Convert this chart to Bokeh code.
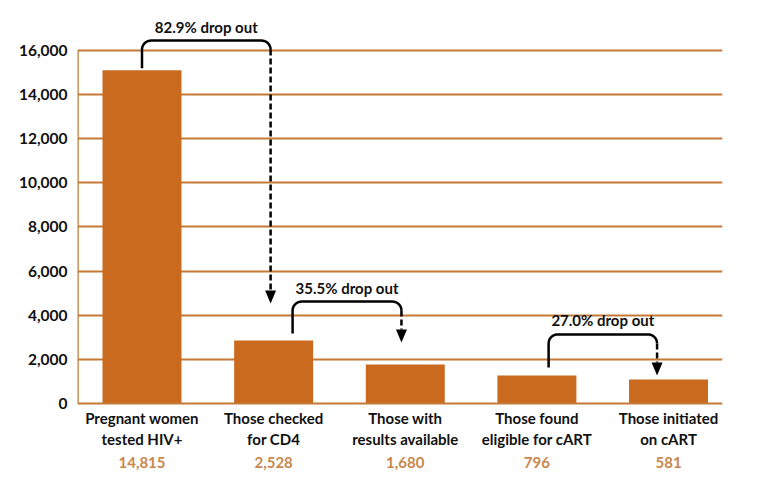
import numpy as np
from bokeh.plotting import figure
from bokeh.models import FixedTicker, NumeralTickFormatter, Range1d
from bokeh.core.properties import value
from bokeh.embed import file_html
from bokeh.resources import INLINE

# ---- data ----
categories = ["Pregnant women\ntested HIV+", "Those checked\nfor CD4", "Those with\nresults available",
              "Those found\neligible for cART", "Those initiated\non cART"]
bar_heights = [15100, 2850, 1770, 1270, 1090]          # as drawn in the picture
count_labels = ["14,815", "2,528", "1,680", "796", "581"]
y_ticks = [0, 2000, 4000, 6000, 8000, 10000, 12000, 14000, 16000]
drop_labels = ["82.9% drop out", "35.5% drop out", "27.0% drop out"]
# bracket geometry: (x_start, y_start, x_end, y_top, y_arrow_tip)
brackets = [(0.0, 15200, 0.977, 16450, 4530),
            (1.144, 3170, 1.971, 4620, 2770),
            (3.089, 1630, 3.913, 3130, 1270)]

BAR = "#C96A1F"
GRID = "#C47A36"
COUNT = "#C9874C"
FONT = "Lato"

x_idx = list(range(len(categories)))

W, H = 758, 478
BL, BR, BT, BB = 77, 36, 10, 3
p = figure(width=W, height=H, output_backend="svg", toolbar_location=None,
           x_range=Range1d(-0.49, 4.41), y_range=Range1d(-3264, 17813),
           min_border_left=BL, min_border_right=BR, min_border_top=BT, min_border_bottom=BB)
p.outline_line_color = None
p.xaxis.visible = False
p.xgrid.visible = False

yax = p.yaxis[0]
yax.ticker = FixedTicker(ticks=y_ticks)
yax.formatter = NumeralTickFormatter(format="0,0")
yax.axis_line_color = None
yax.major_tick_line_color = None
yax.minor_tick_line_color = None
yax.major_tick_out = 0
yax.major_tick_in = 0
yax.major_label_text_font = FONT
yax.major_label_text_font_style = "bold"
yax.major_label_text_font_size = "15.5px"
yax.major_label_text_color = "#111111"
yax.major_label_standoff = 10

p.ygrid.ticker = FixedTicker(ticks=y_ticks[1:])
p.ygrid.grid_line_color = GRID
p.ygrid.grid_line_width = 2.2

# bars
p.vbar(x=x_idx, top=bar_heights, bottom=0, width=0.6, fill_color=BAR, line_color=None)

# axis lines
p.segment(x0=[-0.49], y0=[0], x1=[4.41], y1=[0], line_color=GRID, line_width=2.2)
p.segment(x0=[-0.49], y0=[0], x1=[-0.49], y1=[16000], line_color=GRID, line_width=2.5)

frame_h = H - BT - BB
px_per_y = frame_h / (17813 + 3264)
def ypx(px):
    return px / px_per_y

p.text(x=x_idx, y=[ypx(-6)] * 5, text=categories, text_align="center", text_baseline="top",
       text_font=value(FONT), text_font_style="bold", text_font_size="15px", text_color="#111111",
       text_line_height=1.12)
p.text(x=x_idx, y=[ypx(-59)] * 5, text=count_labels, text_align="center", text_baseline="middle",
       text_font=value(FONT), text_font_style="bold", text_font_size="15px", text_color=COUNT)

# brackets with arrows
px_per_x = (W - BL - BR) / 4.9
rx = 9 / px_per_x
ry = ypx(9)
for (xs, ys, xe, yt, ytip), lab in zip(brackets, drop_labels):
    th = np.linspace(np.pi, np.pi / 2, 12)
    cx1, cy1 = xs + rx, yt - ry
    left_arc_x = cx1 + rx * np.cos(th)
    left_arc_y = cy1 + ry * np.sin(th)
    th2 = np.linspace(np.pi / 2, 0, 12)
    cx2, cy2 = xe - rx, yt - ry
    right_arc_x = cx2 + rx * np.cos(th2)
    right_arc_y = cy2 + ry * np.sin(th2)
    xs_path = [xs] + list(left_arc_x) + list(right_arc_x)
    ys_path = [ys] + list(left_arc_y) + list(right_arc_y)
    p.line(xs_path, ys_path, line_color="black", line_width=2.5)
    head_h = ypx(13)
    hw = 5.5 / px_per_x
    p.line([xe, xe], [yt - ry, ytip + head_h], line_color="black", line_width=2.5, line_dash="6 3")
    p.patch([xe - hw, xe + hw, xe], [ytip + head_h, ytip + head_h, ytip], fill_color="black", line_color=None)
    p.text(x=[(xs + xe) / 2], y=[yt + ypx(14)], text=[lab], text_align="center", text_baseline="middle",
           text_font=value(FONT), text_font_style="bold", text_font_size="15px", text_color="#111111")

open("out.html", "w").write(file_html(p, INLINE))
